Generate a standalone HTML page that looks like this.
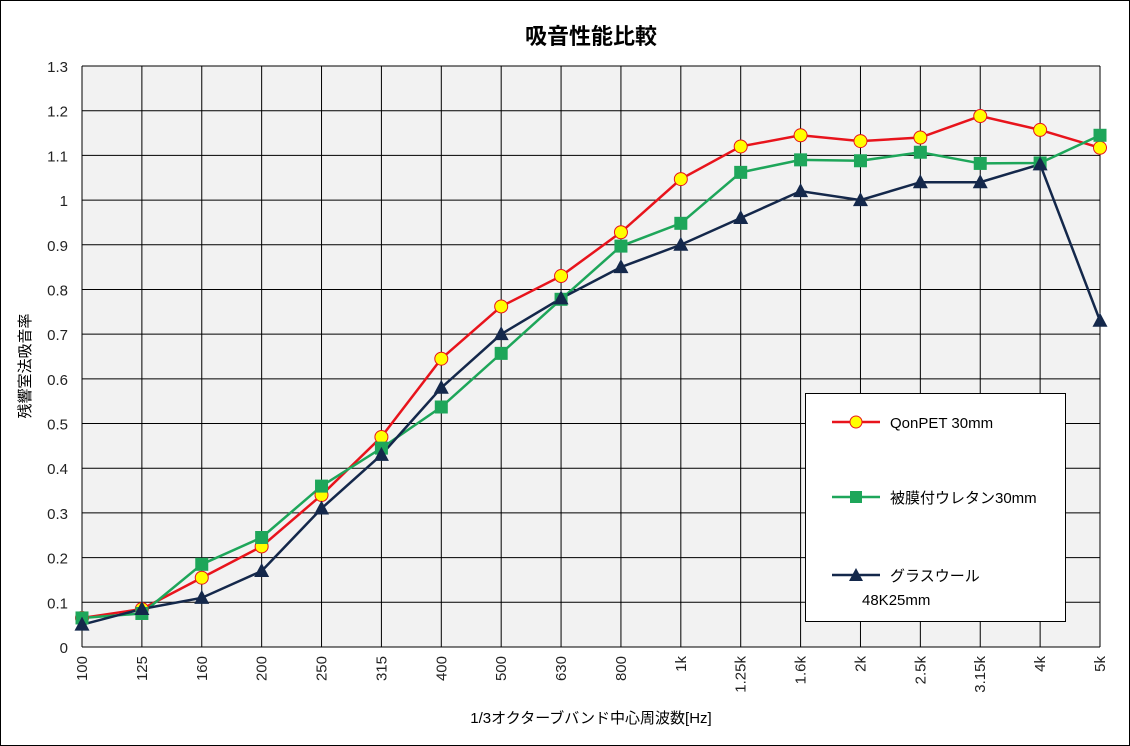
<!DOCTYPE html>
<html><head><meta charset="utf-8"><style>
html,body{margin:0;padding:0;background:#fff}
svg{display:block}
text{font-family:"Liberation Sans","Noto Sans CJK JP",sans-serif}
</style></head><body>
<svg id="s" width="1130" height="746" xmlns="http://www.w3.org/2000/svg">
<rect x="0.5" y="0.5" width="1129" height="745" fill="#fff" stroke="#000"/>
<rect x="82" y="66" width="1018" height="581" fill="#f2f2f2"/>
<text x="591" y="44" font-size="22" font-weight="bold" text-anchor="middle">吸音性能比較</text>
<text x="591" y="723" font-size="15" text-anchor="middle">1/3オクターブバンド中心周波数[Hz]</text>
<text transform="translate(30,366) rotate(-90)" font-size="15" text-anchor="middle">残響室法吸音率</text>
<g id="g"></g>
<rect x="805.5" y="393.5" width="260" height="228" fill="#fff" stroke="#000"/>
<line x1="832" y1="422" x2="880" y2="422" stroke="#e8141c" stroke-width="2.5"/>
<circle cx="856" cy="422" r="6" fill="#ffff00" stroke="#e8141c"/>
<text x="890" y="428" font-size="15">QonPET 30mm</text>
<line x1="832" y1="497" x2="880" y2="497" stroke="#1ea65a" stroke-width="2.5"/>
<rect x="850" y="491" width="12" height="12" fill="#1ea65a"/>
<text x="890" y="503" font-size="15">被膜付ウレタン30mm</text>
<line x1="832" y1="575" x2="880" y2="575" stroke="#14284b" stroke-width="2.5"/>
<polygon points="856,568 863,581 849,581" fill="#14284b"/>
<text x="890" y="581" font-size="15">グラスウール</text>
<text x="862" y="605" font-size="15">48K25mm</text>
</svg>
<script>
var g=document.getElementById('g'),h='';
var X0=82,X1=1100,Y0=647,Y1=66,dx=(X1-X0)/17,dy=(Y0-Y1)/13;
for(var i=0;i<=13;i++){var y=Y0-i*dy;h+='<line x1="'+X0+'" x2="'+X1+'" y1="'+y+'" y2="'+y+'" stroke="#000" stroke-width="1"/>';
var l=(i/10).toString();if(i==0)l='0';h+='<text x="68" y="'+(y+6)+'" font-size="15" text-anchor="end" fill="#222">'+l+'</text>';}
var labs=['100','125','160','200','250','315','400','500','630','800','1k','1.25k','1.6k','2k','2.5k','3.15k','4k','5k'];
for(var i=0;i<18;i++){var x=X0+i*dx;h+='<line y1="'+Y1+'" y2="'+Y0+'" x1="'+x+'" x2="'+x+'" stroke="#000" stroke-width="1"/>';
h+='<text transform="translate('+(x+5)+',656) rotate(-90)" font-size="15" text-anchor="end" fill="#222">'+labs[i]+'</text>';}
h+='<line x1="'+X1+'" x2="'+X1+'" y1="'+Y1+'" y2="'+Y0+'" stroke="#000"/>';
var R=[0.065,0.085,0.155,0.225,0.34,0.47,0.645,0.762,0.83,0.928,1.047,1.12,1.145,1.132,1.14,1.188,1.157,1.117];
var G=[0.065,0.075,0.185,0.245,0.36,0.445,0.537,0.657,0.778,0.897,0.948,1.062,1.09,1.088,1.107,1.082,1.083,1.145];
var N=[0.05,0.085,0.11,0.17,0.31,0.43,0.58,0.70,0.78,0.85,0.90,0.96,1.02,1.00,1.04,1.04,1.08,0.73];
function P(a){return a.map(function(v,i){return (X0+i*dx)+','+(Y0-v*dy*10)}).join(' ')}
function px(i){return X0+i*dx} function py(v){return Y0-v*dy*10}
h+='<polyline points="'+P(R)+'" fill="none" stroke="#e8141c" stroke-width="2.5"/>';
h+='<polyline points="'+P(G)+'" fill="none" stroke="#1ea65a" stroke-width="2.5"/>';
h+='<polyline points="'+P(N)+'" fill="none" stroke="#14284b" stroke-width="2.5"/>';
R.forEach(function(v,i){h+='<circle cx="'+px(i)+'" cy="'+py(v)+'" r="6.5" fill="#ffff00" stroke="#e8141c"/>'});
G.forEach(function(v,i){h+='<rect x="'+(px(i)-6.5)+'" y="'+(py(v)-6.5)+'" width="13" height="13" fill="#1ea65a"/>'});
N.forEach(function(v,i){var x=px(i),y=py(v);h+='<polygon points="'+x+','+(y-8)+' '+(x+7.5)+','+(y+6)+' '+(x-7.5)+','+(y+6)+'" fill="#14284b"/>'});
g.innerHTML=h;
</script>
</body></html>
